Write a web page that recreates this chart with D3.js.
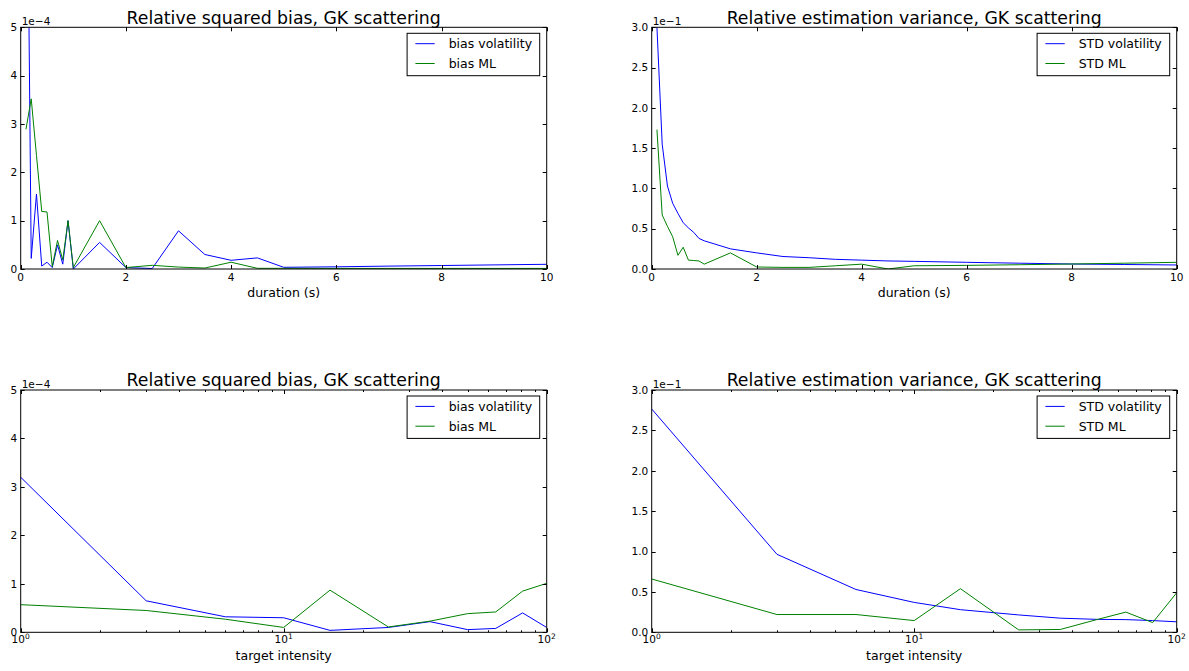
<!DOCTYPE html>
<html><head><meta charset="utf-8">
<script src="https://cdn.jsdelivr.net/npm/d3@7"></script>
<style>body{margin:0;background:#fff} text{font-family:"DejaVu Sans",sans-serif;fill:#000}</style>
</head><body><svg id="c" width="1189" height="671"></svg>
<script>
// ---- data (values in the units shown on the axes: bias x1e-4, std x1e-1) ----
const durations   = [0.1,0.2,0.3,0.4,0.5,0.6,0.7,0.8,0.9,1.0,1.5,2.0,2.5,3.0,3.5,4.0,4.5,5,6,7,8,9,10];
const durBiasVol  = [11.6,0.22,1.55,0.06,0.14,0.03,0.50,0.10,1.00,0.00,0.55,0.03,0.01,0.79,0.30,0.18,0.23,0.035,0.045,0.06,0.072,0.085,0.097];
const durBiasML   = [2.89,3.52,2.35,1.19,1.18,0.05,0.59,0.19,1.00,0.03,1.00,0.03,0.076,0.04,0.02,0.14,0.014,0.014,0.012,0.012,0.012,0.012,0.012];
const durStdVol   = [3.00,1.55,1.03,0.815,0.69,0.575,0.51,0.455,0.38,0.35,0.25,0.20,0.155,0.14,0.12,0.11,0.10,0.095,0.083,0.072,0.062,0.056,0.05];
const durStdML    = [1.73,0.67,0.53,0.40,0.17,0.27,0.11,0.105,0.10,0.06,0.20,0.025,0.02,0.02,0.04,0.06,0.0,0.04,0.045,0.053,0.062,0.072,0.083];
const intensities = [1,3,6,10,15,25,36,50,64,81,100];
const intBiasVol  = [3.20,0.65,0.32,0.30,0.04,0.10,0.22,0.055,0.08,0.40,0.10];
const intBiasML   = [0.57,0.45,0.27,0.10,0.87,0.11,0.23,0.385,0.42,0.85,1.01];
const intStdVol   = [2.765,0.966,0.53,0.37,0.28,0.215,0.175,0.16,0.157,0.145,0.13];
const intStdML    = [0.66,0.22,0.22,0.145,0.54,0.03,0.035,0.16,0.25,0.12,0.49];
const biasTicks   = [0,1,2,3,4,5];
const stdTicks    = [0,0.5,1.0,1.5,2.0,2.5,3.0];
const durTicks    = [0,2,4,6,8,10];
const intTicks    = [1,10,100];
const titleBias   = "Relative squared bias, GK scattering";
const titleStd    = "Relative estimation variance, GK scattering";
const legendBias  = ["bias volatility","bias ML"];
const legendStd   = ["STD volatility","STD ML"];
const colors      = ["#0000ff","#008000"];

const svg = d3.select("#c");
const L = {x0:20.7,x1:546.7}, R = {x0:651.7,x1:1176.7};
const T = {y0:27.3,y1:269}, B = {y0:390,y1:632.3};

const panels = [
  {h:L,v:T,log:false,x:durations,ys:[durBiasVol,durBiasML],yTicks:biasTicks,yMax:5,yFmt:d3.format("d"),title:titleBias,legend:legendBias,off:"1e\u22124",xlabel:"duration (s)"},
  {h:R,v:T,log:false,x:durations,ys:[durStdVol,durStdML],yTicks:stdTicks,yMax:3,yFmt:d3.format(".1f"),title:titleStd,legend:legendStd,off:"1e\u22121",xlabel:"duration (s)"},
  {h:L,v:B,log:true,x:intensities,ys:[intBiasVol,intBiasML],yTicks:biasTicks,yMax:5,yFmt:d3.format("d"),title:titleBias,legend:legendBias,off:"1e\u22124",xlabel:"target intensity"},
  {h:R,v:B,log:true,x:intensities,ys:[intStdVol,intStdML],yTicks:stdTicks,yMax:3,yFmt:d3.format(".1f"),title:titleStd,legend:legendStd,off:"1e\u22121",xlabel:"target intensity"}
];

panels.forEach((p,i)=>{
  const {x0,x1} = p.h, {y0,y1} = p.v;
  const xs = p.log ? d3.scaleLog().domain([1,100]).range([x0,x1]) : d3.scaleLinear().domain([0,10]).range([x0,x1]);
  const ys = d3.scaleLinear().domain([0,p.yMax]).range([y1,y0]);
  const g = svg.append("g");
  const cid = "clip"+i;
  svg.append("clipPath").attr("id",cid).append("rect").attr("x",x0).attr("y",y0).attr("width",x1-x0).attr("height",y1-y0);
  const line = d3.line().x((d,j)=>xs(p.x[j])).y(d=>ys(d));
  p.ys.forEach((arr,k)=>{
    g.append("path").attr("d",line(arr)).attr("fill","none").attr("stroke",colors[k]).attr("stroke-width",1)
      .attr("clip-path",`url(#${cid})`);
  });
  // ticks
  const tk = g.append("g").attr("stroke","#000").attr("stroke-width",1);
  const xMaj = p.log ? intTicks : durTicks;
  xMaj.forEach(t=>{
    const X = Math.round(xs(t))+0.5;
    tk.append("line").attr("x1",X).attr("x2",X).attr("y1",y1).attr("y2",y1-4);
    tk.append("line").attr("x1",X).attr("x2",X).attr("y1",y0).attr("y2",y0+4);
  });
  if(p.log){
    xs.ticks().filter(t=>!intTicks.includes(t)).forEach(t=>{
      const X = Math.round(xs(t))+0.5;
      tk.append("line").attr("x1",X).attr("x2",X).attr("y1",y1).attr("y2",y1-2);
      tk.append("line").attr("x1",X).attr("x2",X).attr("y1",y0).attr("y2",y0+2);
    });
  }
  p.yTicks.forEach(t=>{
    const Y = Math.round(ys(t))+0.5;
    tk.append("line").attr("x1",x0).attr("x2",x0+4).attr("y1",Y).attr("y2",Y);
    tk.append("line").attr("x1",x1).attr("x2",x1-4).attr("y1",Y).attr("y2",Y);
  });
  // frame
  g.append("rect").attr("x",x0).attr("y",y0).attr("width",x1-x0).attr("height",y1-y0)
    .attr("fill","none").attr("stroke","#000").attr("stroke-width",1);
  // tick labels
  p.yTicks.forEach(t=>{
    g.append("text").attr("x",x0-3.5).attr("y",ys(t)).attr("dy","0.36em").attr("text-anchor","end")
      .attr("font-size",10.5).text(p.yFmt(t));
  });
  xMaj.forEach(t=>{
    if(p.log){
      const tx = g.append("text").attr("x",xs(t)).attr("y",y1+10.5).attr("text-anchor","middle").attr("font-size",10.5);
      tx.append("tspan").text("10");
      tx.append("tspan").attr("font-size",7.5).attr("dy",-4).text(String(Math.round(Math.log10(t))));
    } else {
      g.append("text").attr("x",xs(t)).attr("y",y1+12).attr("text-anchor","middle").attr("font-size",10.5).text(d3.format("d")(t));
    }
  });
  // offset text
  g.append("text").attr("x",x0+1).attr("y",y0-2.3).attr("font-size",10.5).text(p.off);
  // title
  g.append("text").attr("x",(x0+x1)/2).attr("y",y0-3.8).attr("text-anchor","middle").attr("font-size",17.3).text(p.title);
  // x label
  g.append("text").attr("x",(x0+x1)/2).attr("y",y1+27.7).attr("text-anchor","middle").attr("font-size",12.5).text(p.xlabel);
  // legend
  const bw = 132.6, bh = 42.4, bx = x1-7-bw, by = y0+6;
  const lg = g.append("g");
  lg.append("rect").attr("x",bx).attr("y",by).attr("width",bw).attr("height",bh).attr("fill","#fff").attr("stroke","#000").attr("stroke-width",1);
  p.legend.forEach((name,k)=>{
    const ry = by+10.4+k*19.8;
    lg.append("line").attr("x1",bx+8.3).attr("x2",bx+27.6).attr("y1",ry).attr("y2",ry).attr("stroke",colors[k]).attr("stroke-width",1);
    lg.append("text").attr("x",bx+41.6).attr("y",ry+4.7).attr("font-size",12.5).text(name);
  });
});
</script></body></html>
